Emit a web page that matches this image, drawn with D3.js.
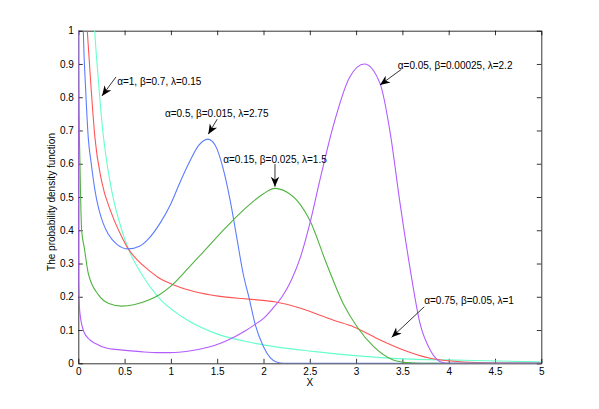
<!DOCTYPE html>
<html>
<head>
<meta charset="utf-8">
<script src="https://cdn.jsdelivr.net/npm/d3@7"></script>
<style>
  body { margin: 0; background: #fff; }
  text { font-family: "Liberation Sans", Arial, Helvetica, sans-serif; }
  .axis path, .axis line { stroke: #000; stroke-width: 0.8; }
  .axis text { font-size: 10px; fill: #000; }
</style>
</head>
<body>
<div id="chart"></div>
<script>

// values
var xTicks = [0, 0.5, 1, 1.5, 2, 2.5, 3, 3.5, 4, 4.5, 5];
var yTicks = [0, 0.1, 0.2, 0.3, 0.4, 0.5, 0.6, 0.7, 0.8, 0.9, 1];

var cyanX = [0.14, 0.177, 0.22, 0.26, 0.30, 0.36, 0.47, 0.54, 0.68, 0.86, 1.12, 1.48, 1.91, 2.56, 3.44, 4.16, 5.0];
var cyanY = [1.2, 1.0, 0.84, 0.71, 0.62, 0.52, 0.40, 0.344, 0.27, 0.20, 0.14, 0.09, 0.06, 0.035, 0.014, 0.009, 0.004];

var redX = [0.06, 0.097, 0.14, 0.18, 0.25, 0.36, 0.47, 0.54, 0.64, 0.76, 0.88, 1.01, 1.26, 1.51, 1.84, 2.12, 2.41, 2.56, 2.75, 2.97, 3.26, 3.51, 3.80, 4.16, 4.5, 5.0];
var redY = [1.15, 1.0, 0.82, 0.677, 0.55, 0.45, 0.38, 0.344, 0.31, 0.28, 0.255, 0.238, 0.215, 0.202, 0.193, 0.185, 0.165, 0.15, 0.13, 0.11, 0.07, 0.04, 0.015, 0.004, 0.001, 0];

var blueX = [0.04, 0.054, 0.08, 0.108, 0.14, 0.18, 0.22, 0.27, 0.32, 0.42, 0.54, 0.66, 0.76, 0.88, 1.0, 1.1, 1.2, 1.3, 1.40, 1.48, 1.56, 1.64, 1.71, 1.78, 1.85, 1.91, 2.0, 2.07, 2.14, 2.22, 5.0];
var blueY = [1.2, 1.0, 0.82, 0.677, 0.60, 0.52, 0.465, 0.42, 0.39, 0.357, 0.344, 0.352, 0.375, 0.42, 0.48, 0.545, 0.605, 0.655, 0.674, 0.655, 0.59, 0.49, 0.38, 0.27, 0.19, 0.117, 0.05, 0.018, 0.004, 0, 0];

var greenX = [0, 0.003, 0.018, 0.036, 0.065, 0.108, 0.22, 0.33, 0.47, 0.60, 0.76, 0.88, 1.0, 1.2, 1.4, 1.6, 1.8, 2.0, 2.12, 2.25, 2.39, 2.50, 2.68, 2.86, 3.01, 3.19, 3.40, 3.55, 3.7, 5.0];
var greenY = [1.2, 0.87, 0.60, 0.40, 0.347, 0.27, 0.205, 0.18, 0.172, 0.176, 0.19, 0.207, 0.232, 0.29, 0.35, 0.41, 0.465, 0.51, 0.526, 0.515, 0.48, 0.43, 0.30, 0.18, 0.11, 0.05, 0.01, 0.002, 0, 0];

var purpleX = [0, 0.003, 0.018, 0.06, 0.126, 0.18, 0.31, 0.40, 0.67, 0.86, 0.99, 1.2, 1.40, 1.55, 1.69, 1.80, 1.91, 2.0, 2.10, 2.20, 2.30, 2.40, 2.50, 2.60, 2.75, 2.93, 3.09, 3.26, 3.37, 3.47, 3.58, 3.69, 3.80, 3.91, 4.0, 5.0];
var purpleY = [1.2, 0.25, 0.15, 0.095, 0.07, 0.06, 0.045, 0.042, 0.035, 0.032, 0.032, 0.037, 0.048, 0.062, 0.08, 0.097, 0.117, 0.135, 0.165, 0.20, 0.25, 0.32, 0.42, 0.54, 0.71, 0.86, 0.90, 0.84, 0.69, 0.49, 0.29, 0.12, 0.04, 0.005, 0, 0];

var seriesNames = ["cyan", "red", "blue", "green", "purple"];
var seriesColors = ["#66ffcc", "#ff5555", "#5c7cff", "#4fb33f", "#b35cff"];

// annotation: label, text x/y, tail x/y, tip x/y, anchor (data units)
var noteLabels = ["α=1, β=0.7, λ=0.15", "α=0.5, β=0.015, λ=2.75", "α=0.15, β=0.025, λ=1.5", "α=0.05, β=0.00025, λ=2.2", "α=0.75, β=0.05, λ=1"];
var noteTextX = [0.42, 1.495, 2.124, 3.45, 3.736];
var noteTextY = [0.847, 0.75, 0.613, 0.894, 0.188];
var noteTailX = [0.407, 1.50, 2.124, 3.49, 3.736];
var noteTailY = [0.861, 0.734, 0.599, 0.884, 0.170];
var noteTipX = [0.256, 1.404, 2.124, 3.258, 3.384];
var noteTipY = [0.804, 0.689, 0.531, 0.837, 0.078];
var noteAnchor = ["start", "middle", "middle", "start", "start"];


var margin = { left: 78.3, right: 57.7, top: 30.7, bottom: 45.7 };

var width = 599 - margin.left - margin.right;
var height = 409 - margin.top - margin.bottom;

var svg = d3.select("#chart")
  .append("svg")
  .attr("width", 599)
  .attr("height", 409)
  .append("g")
  .attr("transform", "translate(" + margin.left + "," + margin.top + ")");

var xScale = d3.scaleLinear().domain([0, 5]).range([0, width]);
var yScale = d3.scaleLinear().domain([0, 1]).range([height, 0]);

svg.append("clipPath")
  .attr("id", "clip")
  .append("rect")
  .attr("width", width)
  .attr("height", height);

var fmt = function (d) { return String(d); };

// box and ticks (inward, MATLAB style)
svg.append("g").attr("class", "axis")
  .attr("transform", "translate(0," + height + ")")
  .call(d3.axisBottom(xScale).tickValues(xTicks).tickFormat(fmt).tickSizeInner(-4.5).tickSizeOuter(0).tickPadding(5));
svg.append("g").attr("class", "axis")
  .call(d3.axisTop(xScale).tickValues(xTicks).tickFormat("").tickSizeInner(-4.5).tickSizeOuter(0));
svg.append("g").attr("class", "axis")
  .call(d3.axisLeft(yScale).tickValues(yTicks).tickFormat(fmt).tickSizeInner(-4.5).tickSizeOuter(0).tickPadding(4.5));
svg.append("g").attr("class", "axis")
  .attr("transform", "translate(" + width + ",0)")
  .call(d3.axisRight(yScale).tickValues(yTicks).tickFormat("").tickSizeInner(-4.5).tickSizeOuter(0));

var line = d3.line()
  .x(function (d) { return xScale(d[0]); })
  .y(function (d) { return yScale(d[1]); })
  .curve(d3.curveMonotoneX);

var allX = [cyanX, redX, blueX, greenX, purpleX];
var allY = [cyanY, redY, blueY, greenY, purpleY];

seriesNames.forEach(function (name, i) {
  var pts = allX[i].map(function (x, j) { return [x, allY[i][j]]; });
  svg.append("path")
    .datum(pts)
    .attr("class", "line " + name)
    .attr("clip-path", "url(#clip)")
    .attr("fill", "none")
    .attr("stroke", seriesColors[i])
    .attr("stroke-width", 1.1)
    .attr("d", line);
});

// arrows
function arrowHead(tx, ty, fx, fy) {
  var a = Math.atan2(ty - fy, tx - fx);
  var L = 10, W = 4.2, N = 7;
  var ca = Math.cos(a), sa = Math.sin(a);
  var bx = tx - L * ca, by = ty - L * sa;
  var nx = tx - N * ca, ny = ty - N * sa;
  return "M" + tx + "," + ty +
    "L" + (bx - W * sa) + "," + (by + W * ca) +
    "L" + nx + "," + ny +
    "L" + (bx + W * sa) + "," + (by - W * ca) + "Z";
}

noteLabels.forEach(function (label, i) {
  var tx = xScale(noteTipX[i]), ty = yScale(noteTipY[i]);
  var fx = xScale(noteTailX[i]), fy = yScale(noteTailY[i]);
  svg.append("line")
    .attr("x1", fx).attr("y1", fy)
    .attr("x2", tx).attr("y2", ty)
    .attr("stroke", "#000").attr("stroke-width", 0.8);
  svg.append("path")
    .attr("d", arrowHead(tx, ty, fx, fy))
    .attr("fill", "#000");
  svg.append("text")
    .attr("x", xScale(noteTextX[i]))
    .attr("y", yScale(noteTextY[i]))
    .attr("dy", "0.35em")
    .style("text-anchor", noteAnchor[i])
    .style("font-size", "10px")
    .text(label);
});

svg.append("text")
  .attr("x", width / 2)
  .attr("y", height + 22.5)
  .style("text-anchor", "middle")
  .style("font-size", "10px")
  .text("X");

svg.append("text")
  .attr("transform", "rotate(-90)")
  .attr("x", -(height / 2) - 5)
  .attr("y", -26.6)
  .attr("dy", "0.35em")
  .style("text-anchor", "middle")
  .style("font-size", "10px")
  .text("The probability density function");

</script>
</body>
</html>
